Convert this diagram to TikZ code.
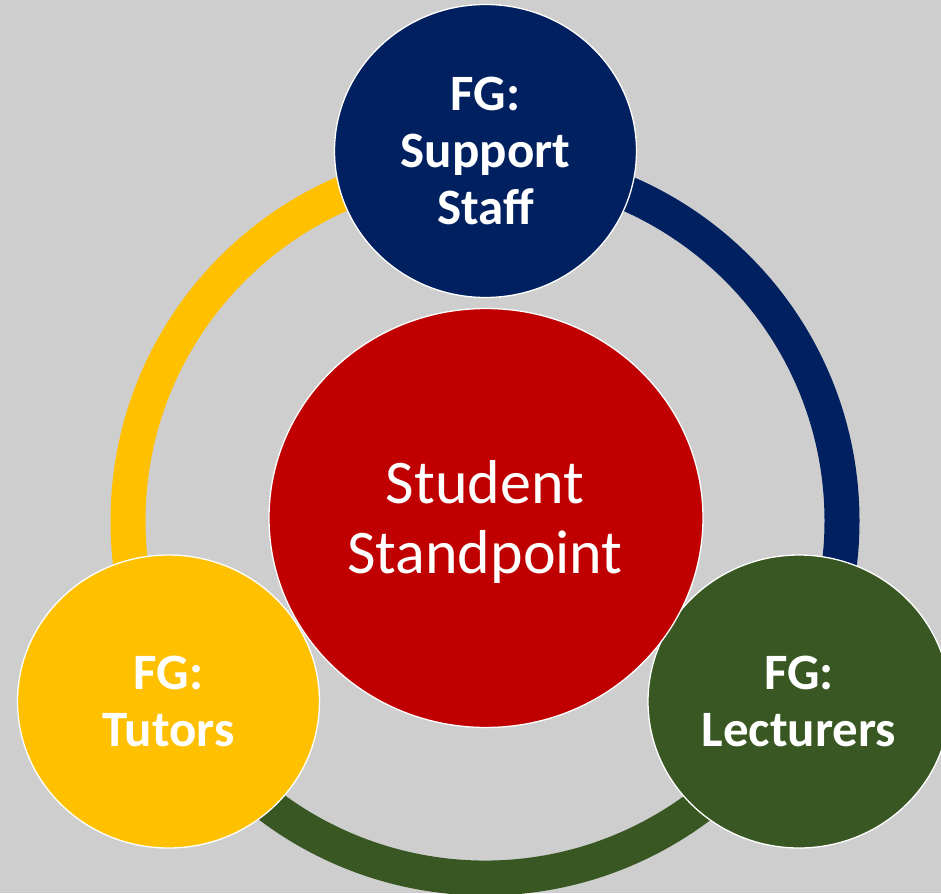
\documentclass[tikz,border=0pt]{standalone}
\usepackage{fontspec}
\setmainfont{Carlito}
\usetikzlibrary{shapes.geometric}
\definecolor{bggrey}{RGB}{206,206,206}
\definecolor{fgblue}{RGB}{0,32,96}
\definecolor{fgred}{RGB}{192,0,0}
\definecolor{fgyellow}{RGB}{255,192,0}
\definecolor{fggreen}{RGB}{56,87,35}
\tikzset{
  smallcirc/.style={ellipse, draw=white, line width=1.3pt, inner sep=0pt,
    minimum width=302pt, minimum height=293pt, text=white, align=center,
    font=\fontsize{51}{57}\selectfont\bfseries},
  bigcirc/.style={ellipse, draw=white, line width=1.3pt, inner sep=0pt,
    minimum width=434pt, minimum height=419pt, text=white, align=center,
    font=\fontsize{62}{70}\selectfont},
  ringarc/.style={line width=35pt, line cap=butt}
}
\begin{document}
\begin{tikzpicture}[x=1pt, y=-1pt]
\useasboundingbox (0,0) rectangle (941,893);
\clip (0,0) rectangle (941,893);
\fill[bggrey] (0,0) rectangle (941,893);
\coordinate (rc) at (485,521);
% ring arcs
\draw[ringarc, fgyellow] ([shift={(90:357pt)}]rc) arc[start angle=90, end angle=210, radius=357pt];
\draw[ringarc, fgblue] ([shift={(90:357pt)}]rc) arc[start angle=90, end angle=-30, radius=357pt];
\draw[ringarc, fggreen] ([shift={(210:357pt)}]rc) arc[start angle=210, end angle=330, radius=357pt];
% circles
\node[smallcirc, fill=fgblue] (sup) at (485.5,151) {FG:\\Support\\Staff};
\node[smallcirc, fill=fgyellow] (tut) at (168.5,701.5) {FG:\\Tutors};
\node[smallcirc, fill=fggreen] (lec) at (799,701.5) {FG:\\Lecturers};
\node[bigcirc, fill=fgred] (stu) at (486,518) {};
\node[text=white, align=center, font=\fontsize{62}{70}\selectfont, inner sep=0pt] (stutext) at (485,522) {Student\\Standpoint};
\end{tikzpicture}
\end{document}
